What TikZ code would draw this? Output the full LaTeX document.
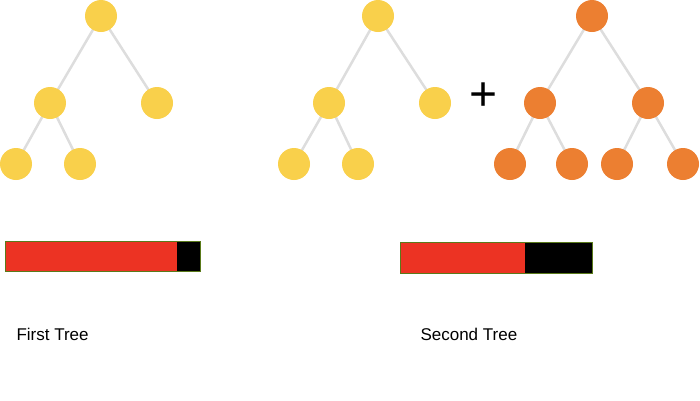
\documentclass[tikz,border=0pt]{standalone}
\usepackage{fontspec}
\setmainfont{Liberation Sans}
\definecolor{yel}{HTML}{F9D04B}
\definecolor{ora}{HTML}{EC7F31}
\definecolor{bred}{HTML}{EC3323}
\definecolor{edge}{HTML}{DDDDDD}
\definecolor{bord}{HTML}{5A7A1A}
\begin{document}
\begin{tikzpicture}[x=1pt,y=-1pt,
  yn/.style={circle,fill=yel,minimum size=32pt,inner sep=0pt},
  on/.style={circle,fill=ora,minimum size=32pt,inner sep=0pt},
  ed/.style={draw=edge,line width=2.5pt},
  lbl/.style={font=\fontsize{17}{20}\selectfont,anchor=west}]
\useasboundingbox (0,0) rectangle (700,400);
% tree 1
\coordinate (a) at (101,16); \coordinate (b) at (50,103); \coordinate (c) at (157,103);
\coordinate (d) at (16,164); \coordinate (e) at (80,164);
\draw[ed] (a)--(b) (a)--(c) (b)--(d) (b)--(e);
\node[yn] (a1) at (a) {}; \node[yn] (b1) at (b) {}; \node[yn] (c1) at (c) {};
\node[yn] (d1) at (d) {}; \node[yn] (e1) at (e) {};
% tree 2
\coordinate (f) at (378,16); \coordinate (g) at (329,103); \coordinate (h) at (435,103);
\coordinate (i) at (294,164); \coordinate (j) at (358,164);
\draw[ed] (f)--(g) (f)--(h) (g)--(i) (g)--(j);
\node[yn] (f1) at (f) {}; \node[yn] (g1) at (g) {}; \node[yn] (h1) at (h) {};
\node[yn] (i1) at (i) {}; \node[yn] (j1) at (j) {};
% plus
\node (plus) at (484,97) {\fontsize{48}{48}\selectfont +};
% orange tree
\coordinate (k) at (592,16); \coordinate (l) at (540,103); \coordinate (m) at (648,103);
\coordinate (n) at (510,164); \coordinate (o) at (572,164); \coordinate (p) at (617,164); \coordinate (q) at (683,164);
\draw[ed] (k)--(l) (k)--(m) (l)--(n) (l)--(o) (m)--(p) (m)--(q);
\foreach \c in {k,l,m,n,o,p,q} \node[on] (\c1) at (\c) {};
% bars
\fill[bred] (5,241) rectangle (177,271);
\fill[black] (177,241) rectangle (200,271);
\draw[bord,line width=0.6pt] (5,241) rectangle (200,271);
\fill[bred] (400,242) rectangle (525,273);
\fill[black] (525,242) rectangle (592,273);
\draw[bord,line width=0.6pt] (400,242) rectangle (592,273);
\node[lbl] (t1) at (13,334) {First Tree};
\node[lbl] (t2) at (417,334) {Second Tree};
\end{tikzpicture}
\end{document}
